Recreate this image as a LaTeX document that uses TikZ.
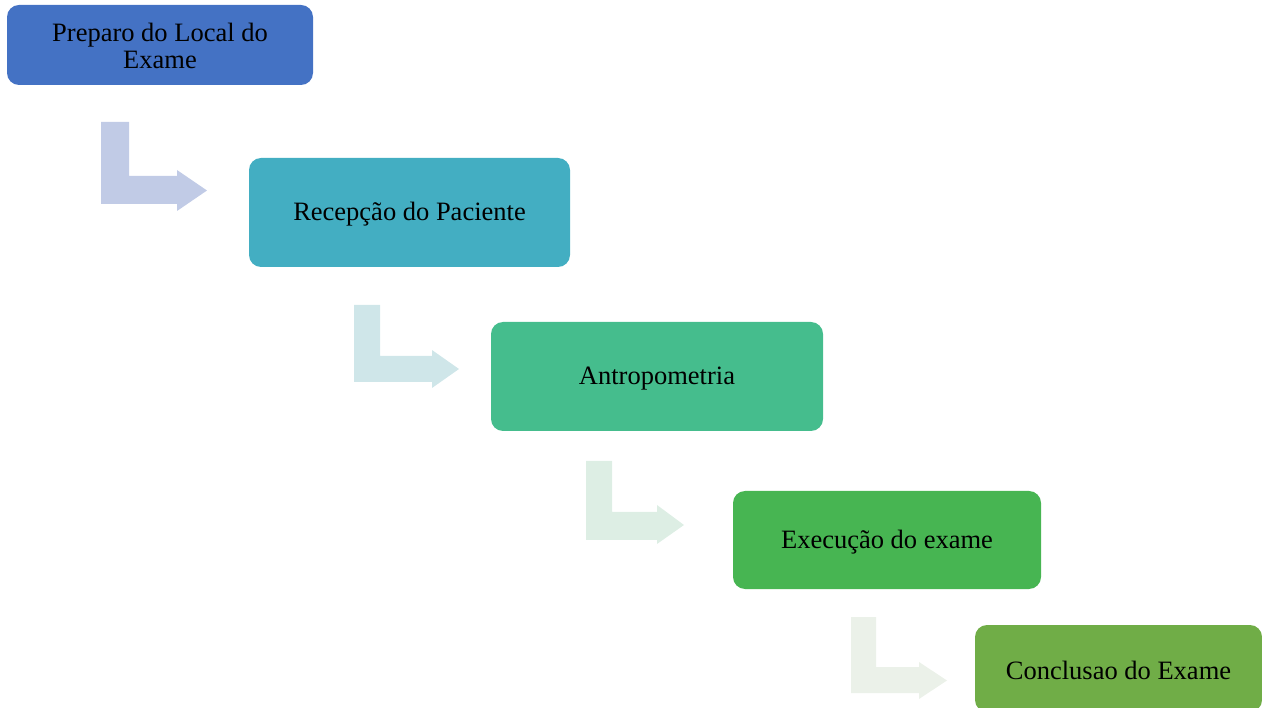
\documentclass[tikz,border=0pt]{standalone}
\usepackage{fontspec}
\setmainfont{Liberation Serif}
\definecolor{cA}{HTML}{4472C4}
\definecolor{cB}{HTML}{43AEC2}
\definecolor{cC}{HTML}{45BD8D}
\definecolor{cD}{HTML}{47B552}
\definecolor{cE}{HTML}{70AD47}
\definecolor{aA}{HTML}{C1CBE6}
\definecolor{aB}{HTML}{CFE6E9}
\definecolor{aC}{HTML}{DDEEE4}
\definecolor{aD}{HTML}{EBF1E9}
\begin{document}
\begin{tikzpicture}[x=1pt,y=-1pt,
  stepbox/.style={rounded corners=12pt, inner sep=0pt, align=center,
    font=\fontsize{26.5}{27}\selectfont, text=black}]
\useasboundingbox (0,0) rectangle (1262,708);
\clip (0,0) rectangle (1262,708);
% boxes
\fill[cA, rounded corners=12pt] (7,5) rectangle (313,85);
\node[stepbox] (b1) at (160,45.5) {Preparo do Local do\\Exame};
\fill[cB, rounded corners=12pt] (249,158) rectangle (570,267);
\node[stepbox] (b2) at (409.5,214.5) {Recepção do Paciente};
\fill[cC, rounded corners=12pt] (491,322) rectangle (823,431);
\node[stepbox] (b3) at (657,378.5) {Antropometria};
\fill[cD, rounded corners=12pt] (733,491) rectangle (1041,589);
\node[stepbox] (b4) at (887,542) {Execução do exame};
\fill[cE, rounded corners=12pt] (975,625) rectangle (1262,712);
\node[stepbox] (b5) at (1118.5,670) {Conclusao do Exame};
% bent arrows
\fill[aA] (101,122) -- (129,122) -- (129,176) -- (177,176) -- (177,170) -- (207,190.5) -- (177,211) -- (177,204) -- (101,204) -- cycle;
\fill[aB] (354,305) -- (380,305) -- (380,356) -- (432,356) -- (432,350) -- (459,369) -- (432,388) -- (432,382) -- (354,382) -- cycle;
\fill[aC] (586,461) -- (612,461) -- (612,512) -- (657,512) -- (657,505) -- (684,525) -- (657,544) -- (657,540) -- (586,540) -- cycle;
\fill[aD] (851,617) -- (876,617) -- (876,667) -- (919,667) -- (919,662) -- (947,680.5) -- (919,699) -- (919,693) -- (851,693) -- cycle;
\end{tikzpicture}
\end{document}
